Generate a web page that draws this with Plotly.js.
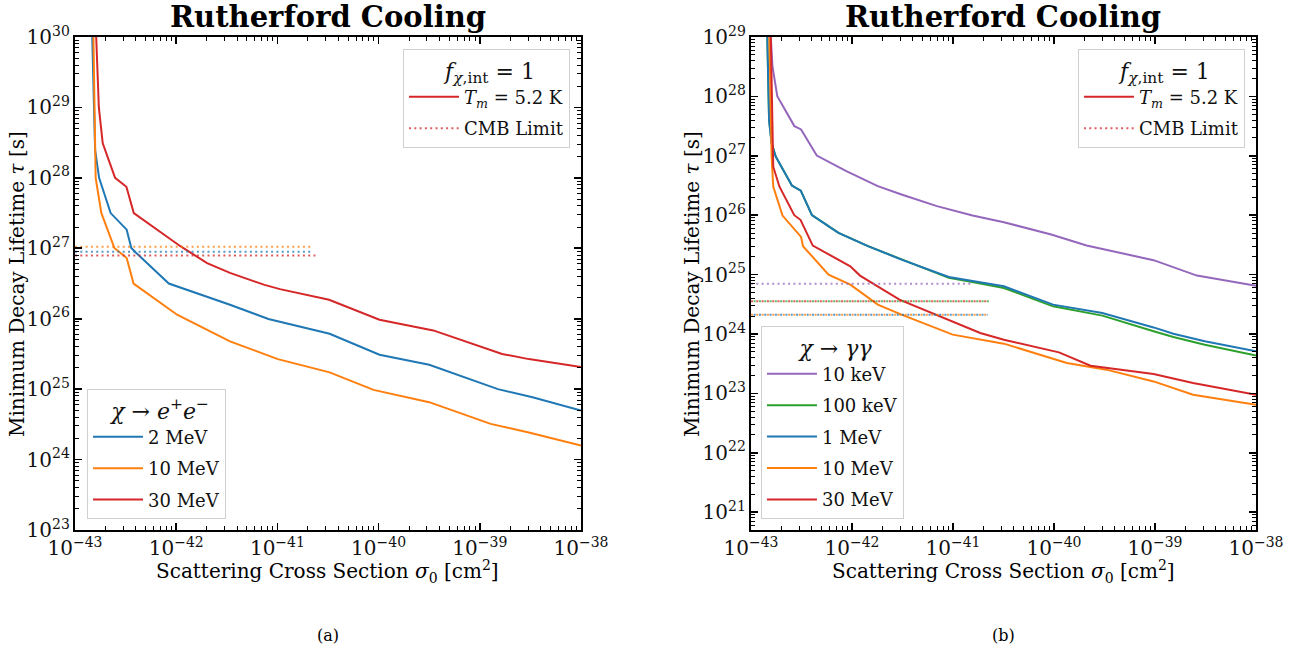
<!DOCTYPE html>
<html>
<head>
<meta charset="utf-8">
<script src="https://cdn.plot.ly/plotly-3.0.1.min.js"></script>
<style>
html,body{margin:0;padding:0;background:#fff;}
#chart{width:1299px;height:653px;}
</style>
</head>
<body>
<div id="chart"></div>
<script>
// ---------- Data ----------
// Panel (a): chi -> e+ e-
const sigmaEE2 = [1.48e-43, 1.58e-43, 1.73e-43, 2.25e-43, 3.24e-43, 3.60e-43, 4.03e-43, 8.45e-43, 3.40e-42, 8.15e-42, 3.28e-41, 1.02e-40, 3.16e-40, 1.51e-39, 3.32e-39, 1e-38];
const tauEE2   = [1e30, 2.5e28, 1e28, 3.16e27, 1.84e27, 1.01e27, 8.59e26, 3.16e26, 1.58e26, 9.89e25, 6.12e25, 3.08e25, 2.22e25, 1e25, 7.69e24, 4.98e24];

const sigmaEE10 = [1.52e-43, 1.60e-43, 1.82e-43, 2.45e-43, 3.24e-43, 3.79e-43, 1.02e-42, 3.40e-42, 1.01e-41, 3.28e-41, 8.91e-41, 3.16e-40, 1.28e-39, 3.05e-39, 1e-38];
const tauEE10   = [1e30, 1e28, 3.18e27, 1.01e27, 7.29e26, 3.15e26, 1.14e26, 4.76e25, 2.67e25, 1.73e25, 9.77e24, 6.53e24, 3.21e24, 2.42e24, 1.58e24];

const sigmaEE30 = [1.62e-43, 1.72e-43, 1.88e-43, 2.49e-43, 3.22e-43, 3.81e-43, 8.45e-43, 1.10e-42, 2.02e-42, 3.40e-42, 7.46e-42, 1.06e-41, 3.24e-41, 1.02e-40, 3.47e-40, 1.66e-39, 3.05e-39, 1e-38];
const tauEE30   = [1e30, 1e29, 3.1e28, 1e28, 7.46e27, 3.16e27, 1.40e27, 1.07e27, 6.17e26, 4.47e26, 3.02e26, 2.63e26, 1.86e26, 9.68e25, 6.82e25, 3.16e25, 2.67e25, 2.06e25];

// CMB limits, panel (a)
const cmbEE_x_short = [1e-43, 2.2e-41];
const cmbEE_x_long  = [1e-43, 2.4e-41];
const cmbEE2  = [8.9e26, 8.9e26];
const cmbEE10 = [1.05e27, 1.05e27];
const cmbEE30 = [7.9e26, 7.9e26];

// Panel (b): chi -> gamma gamma
const sigmaGG10k = [1.57e-43, 1.63e-43, 1.82e-43, 2.69e-43, 3.13e-43, 4.48e-43, 8.79e-43, 1.80e-42, 3.09e-42, 6.93e-42, 1.56e-41, 3.19e-41, 9.38e-41, 2.10e-40, 9.68e-40, 2.60e-39, 1e-38];
const tauGG10k   = [1e29, 3.24e28, 1.01e28, 3.16e27, 2.78e27, 1.01e27, 5.52e26, 3.08e26, 2.23e26, 1.42e26, 9.86e25, 7.62e25, 4.72e25, 3.08e25, 1.75e25, 9.62e24, 6.46e24];

const sigmaGG100k = [1.45e-43, 1.51e-43, 1.60e-43, 1.76e-43, 2.54e-43, 3.11e-43, 4.01e-43, 7.35e-43, 1.44e-42, 3.09e-42, 9.08e-42, 1.86e-41, 3.19e-41, 9.79e-41, 3.01e-40, 9.68e-40, 1.52e-39, 3.11e-39, 1e-38];
const tauGG100k   = [1e29, 3.98e27, 1.62e27, 9.66e26, 3.16e26, 2.59e26, 1e26, 5.04e25, 3.01e25, 1.79e25, 8.81e24, 7.08e24, 5.96e24, 2.92e24, 2.04e24, 1.11e24, 8.89e23, 6.61e23, 4.32e23];

const sigmaGG1M = [1.45e-43, 1.51e-43, 1.60e-43, 1.76e-43, 2.54e-43, 3.11e-43, 4.01e-43, 7.35e-43, 1.44e-42, 3.09e-42, 9.08e-42, 1.86e-41, 3.19e-41, 9.79e-41, 3.01e-40, 9.68e-40, 1.52e-39, 3.11e-39, 1e-38];
const tauGG1M   = [1e29, 3.98e27, 1.62e27, 9.66e26, 3.16e26, 2.59e26, 1e26, 5.04e25, 3.01e25, 1.79e25, 9.12e24, 7.43e24, 6.35e24, 3.12e24, 2.26e24, 1.29e24, 1.01e24, 7.52e23, 5.11e23];

const sigmaGG10M = [1.52e-43, 1.60e-43, 1.66e-43, 2.05e-43, 3.13e-43, 3.27e-43, 5.86e-43, 9.62e-43, 1.80e-42, 3.09e-42, 9.93e-42, 3.19e-41, 1.34e-40, 3.30e-40, 9.68e-40, 2.38e-39, 1e-38];
const tauGG10M   = [1e29, 9.66e26, 3.02e26, 9.86e25, 4.32e25, 3.01e25, 1e25, 6.78e24, 3.12e24, 2.12e24, 9.75e23, 6.87e23, 3.24e23, 2.51e23, 1.59e23, 9.51e22, 6.44e22];

const sigmaGG30M = [1.57e-43, 1.66e-43, 1.91e-43, 2.68e-43, 3.09e-43, 4.09e-43, 9.62e-43, 1.20e-42, 2.95e-42, 9.93e-42, 1.86e-41, 3.19e-41, 1.12e-40, 2.30e-40, 9.68e-40, 2.38e-39, 1e-38];
const tauGG30M   = [1e29, 6.55e26, 3.05e26, 1e26, 8.36e25, 3.08e25, 1.38e25, 9.62e24, 3.79e24, 1.63e24, 1.04e24, 8.02e23, 4.91e23, 2.92e23, 2.12e23, 1.49e23, 9.51e22];

// CMB limits, panel (b)
const cmbGG_x_purple = [1e-43, 1.6e-41];
const cmbGG_x_mid    = [1e-43, 2.3e-41];
const cmbGG_x_low    = [1e-43, 2.2e-41];
const cmbGG10k  = [7.0e24, 7.0e24];
const cmbGG100k = [3.56e24, 3.56e24];
const cmbGG1M   = [2.1e24, 2.1e24];
const cmbGG10M  = [2.1e24, 2.1e24];
const cmbGG30M  = [3.56e24, 3.56e24];

const legendEE = ['2 MeV', '10 MeV', '30 MeV'];
const legendGG = ['10 keV', '100 keV', '1 MeV', '10 MeV', '30 MeV'];

// ---------- Styling ----------
const C = {blue:'#1f77b4', orange:'#ff7f0e', green:'#2ca02c', red:'#d62728', purple:'#9467bd'};
const SERIF = '"DejaVu Serif", serif';
const DOT_A = '2px,3.3px';
const DOT_B = '0px,2.65px,2px,0.65px';

let gid = 0;
function line(x, y, color, name, xa, ya, legend, show) {
  return {x:x, y:y, type:'scatter', mode:'lines', name:name,
    line:{color:color, width:2}, xaxis:xa, yaxis:ya, legendgroup:'g' + (gid++),
    legend:legend, showlegend:show, hoverinfo:'skip'};
}
function dotted(x, y, color, name, xa, ya, legend, show, pattern) {
  return {x:x, y:y, type:'scatter', mode:'lines', name:name,
    line:{color:color, width:2, dash:pattern || DOT_A}, opacity:0.75, xaxis:xa, yaxis:ya,
    legendgroup:'g' + (gid++), legend:legend, showlegend:show, hoverinfo:'skip'};
}

const tmName = '<i>T</i><sub><i>m</i></sub> = 5.2 K';
const traces = [
  // panel (a)
  line(sigmaEE2,  tauEE2,  C.blue,   legendEE[0], 'x', 'y', 'legend2', true),
  line(sigmaEE10, tauEE10, C.orange, legendEE[1], 'x', 'y', 'legend2', true),
  line(sigmaEE30, tauEE30, C.red,    legendEE[2], 'x', 'y', 'legend2', true),
  dotted(cmbEE_x_short, cmbEE10, C.orange, 'CMB', 'x', 'y', 'legend', false),
  dotted(cmbEE_x_short, cmbEE2,  C.blue,   'CMB', 'x', 'y', 'legend', false),
  line([null], [null], C.red, tmName, 'x', 'y', 'legend', true),
  dotted(cmbEE_x_long,  cmbEE30, C.red, 'CMB Limit', 'x', 'y', 'legend', true),
  // panel (b)
  line(sigmaGG10k,  tauGG10k,  C.purple, legendGG[0], 'x2', 'y2', 'legend4', true),
  line(sigmaGG100k, tauGG100k, C.green,  legendGG[1], 'x2', 'y2', 'legend4', true),
  line(sigmaGG1M,   tauGG1M,   C.blue,   legendGG[2], 'x2', 'y2', 'legend4', true),
  line(sigmaGG10M,  tauGG10M,  C.orange, legendGG[3], 'x2', 'y2', 'legend4', true),
  line(sigmaGG30M,  tauGG30M,  C.red,    legendGG[4], 'x2', 'y2', 'legend4', true),
  dotted(cmbGG_x_purple, cmbGG10k,  C.purple, 'CMB', 'x2', 'y2', 'legend3', false),
  dotted(cmbGG_x_mid,    cmbGG100k, C.green,  'CMB', 'x2', 'y2', 'legend3', false, DOT_B),
  dotted(cmbGG_x_low,    cmbGG1M,   C.blue,   'CMB', 'x2', 'y2', 'legend3', false, DOT_B),
  dotted(cmbGG_x_low,    cmbGG10M,  C.orange, 'CMB', 'x2', 'y2', 'legend3', false),
  line([null], [null], C.red, tmName, 'x2', 'y2', 'legend3', true),
  dotted(cmbGG_x_mid,    cmbGG30M,  C.red, 'CMB Limit', 'x2', 'y2', 'legend3', true)
];

const yDom = [0.18836, 0.94334];
const tickFont = {family:SERIF, size:16, color:'#111'};
function xAxis(dom, anchor) {
  return {type:'log', range:[-43, -38], domain:dom, anchor:anchor,
    dtick:1, exponentformat:'power', showgrid:false, zeroline:false,
    showline:true, linewidth:2, linecolor:'#000', mirror:'ticks',
    ticks:'inside', ticklen:7, tickwidth:1.6, tickcolor:'#000',
    tickfont:tickFont,
    minor:{ticks:'inside', ticklen:4, tickwidth:1, tickcolor:'#000', dtick:'D1', showgrid:false},
    automargin:false};
}
function yAxis(range, anchor) {
  return {type:'log', range:range, domain:yDom, anchor:anchor,
    dtick:1, exponentformat:'power', showgrid:false, zeroline:false,
    showline:true, linewidth:2, linecolor:'#000', mirror:'ticks',
    ticks:'inside', ticklen:7, tickwidth:1.6, tickcolor:'#000',
    tickfont:tickFont,
    minor:{ticks:'inside', ticklen:4, tickwidth:1, tickcolor:'#000', dtick:'D1', showgrid:false},
    automargin:false};
}
function legendBox(x, xanchor, y, yanchor, title) {
  return {x:x, xanchor:xanchor, y:y, yanchor:yanchor, xref:'paper', yref:'paper',
    bgcolor:'rgba(255,255,255,0.85)', bordercolor:'#d0d0d0', borderwidth:1,
    font:{family:SERIF, size:18, color:'#111'}, itemwidth:50,
    traceorder:'grouped', tracegroupgap:5,
    title:{text:'&nbsp;' + title, side:'top center', font:{family:SERIF, size:22, color:'#111'}}};
}

const xTitle = 'Scattering Cross Section <i>σ</i><sub>0</sub> [cm<sup>2</sup>]';
const yTitle = 'Minimum Decay Lifetime <i>τ</i> [s]';
function ann(text, x, y, size, extra) {
  return Object.assign({text:text, x:x, y:y, xref:'paper', yref:'paper',
    xanchor:'center', yanchor:'middle', showarrow:false,
    font:{family:SERIF, size:size, color:'#000'}}, extra || {});
}

const layout = {
  width:1299, height:653,
  margin:{l:0, r:0, t:0, b:0},
  paper_bgcolor:'#fff', plot_bgcolor:'#fff',
  showlegend:true,
  xaxis: xAxis([0.05774, 0.44727], 'y'),
  yaxis: yAxis([23, 30], 'x'),
  xaxis2: xAxis([0.57814, 0.96690], 'y2'),
  yaxis2: yAxis([20.7, 29], 'x2'),
  legend:  legendBox(0.4388, 'right', 0.925, 'top', '<i>f</i><sub><i>χ</i>,int</sub> = 1'),
  legend2: legendBox(0.067, 'left', 0.2052, 'bottom', '<i>χ</i> → <i>e</i><sup>+</sup><i>e</i><sup>−</sup>'),
  legend3: legendBox(0.9584, 'right', 0.925, 'top', '<i>f</i><sub><i>χ</i>,int</sub> = 1'),
  legend4: legendBox(0.5858, 'left', 0.2052, 'bottom', '<i>χ</i> → <i>γγ</i>'),
  annotations: [
    ann('<b>Rutherford Cooling</b>', 0.2525, (653-17)/653, 29),
    ann('<b>Rutherford Cooling</b>', 0.7725, (653-17)/653, 29),
    ann(xTitle, 0.2525, (653-571)/653, 20),
    ann(xTitle, 0.7725, (653-571)/653, 20),
    ann(yTitle, 17/1299, (653-284)/653, 20, {textangle:-90}),
    ann(yTitle, 692/1299, (653-284)/653, 20, {textangle:-90}),
    ann('(a)', 0.2525, (653-635)/653, 16),
    ann('(b)', 0.7725, (653-635)/653, 16)
  ]
};

Plotly.newPlot('chart', traces, layout, {staticPlot:true, displayModeBar:false});
</script>
</body>
</html>
